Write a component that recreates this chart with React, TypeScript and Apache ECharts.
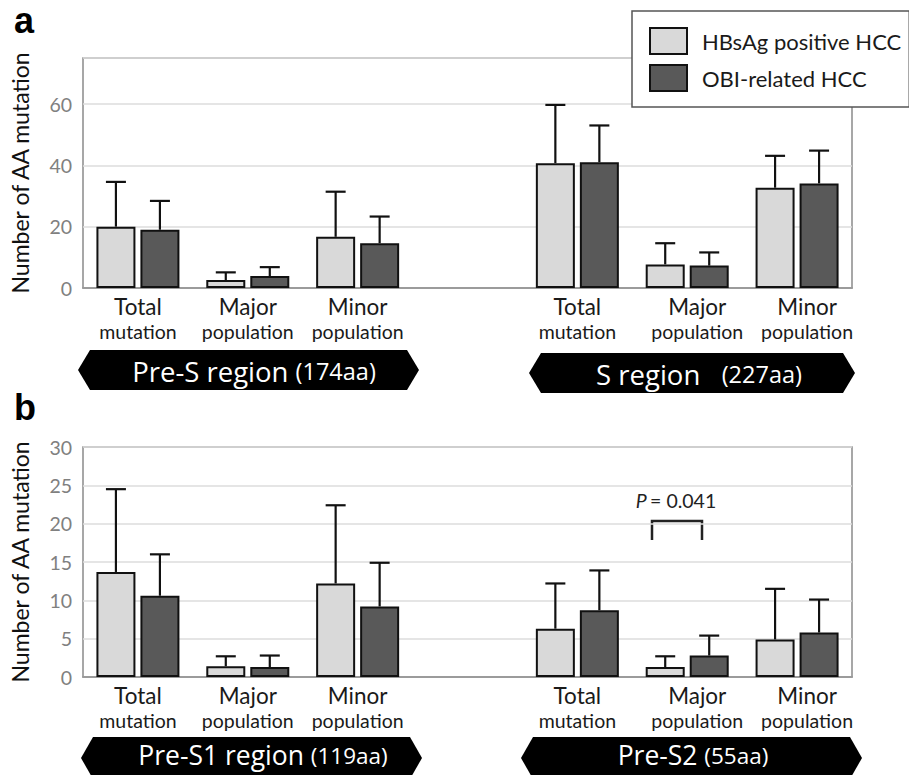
import React, { useEffect, useRef } from "react";
import * as echarts from "echarts";

const catTop = ["Total", "Major", "Minor", "", "Total", "Major", "Minor"];
const catBottom = ["mutation", "population", "population", "", "mutation", "population", "population"];
const seriesNames = ["HBsAg positive HCC", "OBI-related HCC"];

// Panel a
const hbsA = [20, 2.6, 16.7, null, 40.7, 7.7, 32.7];
const hbsAUpper = [34.6, 5.1, 31.4, null, 59.7, 14.6, 43.1];
const obiA = [19, 3.9, 14.6, null, 41.0, 7.3, 34.1];
const obiAUpper = [28.4, 6.8, 23.3, null, 53, 11.6, 44.8];
// Panel b
const hbsB = [13.7, 1.4, 12.2, null, 6.3, 1.3, 4.9];
const hbsBUpper = [24.5, 2.7, 22.4, null, 12.2, 2.7, 11.5];
const obiB = [10.6, 1.3, 9.2, null, 8.7, 2.8, 5.8];
const obiBUpper = [16.0, 2.8, 14.9, null, 13.9, 5.4, 10.1];

const yA = { min: 0, max: 75, interval: 20 };
const yB = { min: 0, max: 30, interval: 5 };

const regionA = [
  { main: "Pre-S region", sub: "(174aa)", gap: " " },
  { main: "S region", sub: "(227aa)", gap: "   " },
];
const regionB = [
  { main: "Pre-S1 region", sub: "(119aa)", gap: " " },
  { main: "Pre-S2", sub: "(55aa)", gap: " " },
];
const pLabel = "0.041";

const FONT = "Lato";
const BFONT = "Open Sans";
const LIGHT = "#d9d9d9";
const DARK = "#595959";
const BAR_W = 39;
const BAR_GAP_PX = 5;
const OFF = (BAR_W + BAR_GAP_PX) / 2;

function barSeries(name: string, data: (number | null)[], idx: number, color: string) {
  return {
    type: "bar",
    name,
    xAxisIndex: idx,
    yAxisIndex: idx,
    data,
    barWidth: BAR_W,
    barGap: (BAR_GAP_PX / BAR_W) * 100 + "%",
    itemStyle: { color, borderColor: "#111", borderWidth: 2 },
    z: 2,
  };
}

function errSeries(means: (number | null)[], uppers: (number | null)[], idx: number, offset: number) {
  const data: number[][] = [];
  means.forEach((m, i) => {
    if (m != null && uppers[i] != null) data.push([i, m, uppers[i] as number]);
  });
  return {
    type: "custom",
    xAxisIndex: idx,
    yAxisIndex: idx,
    silent: true,
    z: 5,
    data,
    encode: { x: 0, y: [1, 2] },
    renderItem: (params: any, api: any) => {
      const i = api.value(0);
      const p0 = api.coord([i, api.value(1)]);
      const p1 = api.coord([i, api.value(2)]);
      const x = p0[0] + offset;
      return {
        type: "group",
        children: [
          { type: "line", shape: { x1: x, y1: p0[1], x2: x, y2: p1[1] }, style: { stroke: "#111", lineWidth: 2.2 } },
          { type: "line", shape: { x1: x - 10, y1: p1[1], x2: x + 10, y2: p1[1] }, style: { stroke: "#111", lineWidth: 2.2 } },
        ],
      };
    },
  };
}

function xAxis(idx: number) {
  return {
    type: "category",
    gridIndex: idx,
    data: catTop.map((t, i) => t + "\n" + catBottom[i]),
    axisTick: { show: false },
    axisLine: { lineStyle: { color: "#8a8a8a", width: 1.5 } },
    axisLabel: {
      interval: 0,
      margin: 7,
      hideOverlap: false,
      formatter: (val: string, i: number) => {
        if (!val.trim()) return "";
        const [t, b] = val.split("\n");
        const s = i === 5 || i === 6 ? "s" : "";
        return `{t${s}|${t}}\n{b${s}|${b}}`;
      },
      rich: {
        t: { fontFamily: FONT, fontSize: 22.5, lineHeight: 23, color: "#1a1a1a" },
        b: { fontFamily: FONT, fontSize: 19.5, lineHeight: 26, color: "#1a1a1a" },
        ts: { fontFamily: FONT, fontSize: 22.5, lineHeight: 23, color: "#1a1a1a", padding: [0, 0, 0, 20] },
        bs: { fontFamily: FONT, fontSize: 19.5, lineHeight: 26, color: "#1a1a1a", padding: [0, 0, 0, 20] },
      },
    },
  };
}

function yAxis(idx: number, cfg: { min: number; max: number; interval: number }) {
  return {
    type: "value",
    gridIndex: idx,
    min: cfg.min,
    max: cfg.max,
    interval: cfg.interval,
    name: "Number of AA mutation",
    nameLocation: "middle",
    nameGap: 52,
    nameRotate: 90,
    nameTextStyle: { fontFamily: FONT, fontSize: 23, color: "#111" },
    axisLine: { show: false },
    axisTick: { show: false },
    axisLabel: { showMaxLabel: cfg.max % cfg.interval === 0, margin: 11, fontFamily: FONT, fontSize: 19.5, color: "#808080" },
    splitLine: { lineStyle: { color: "#dcdcdc", width: 1.5 } },
  };
}

function banner(
  x0: number, x1: number, top: number, bottom: number, tip: number,
  r: { main: string; sub: string; gap: string }, cx: number, ty: number, size: number
) {
  const mid = (top + bottom) / 2;
  return [
    {
      type: "polygon",
      shape: {
        points: [
          [x0, mid],
          [x0 + tip, top],
          [x1 - tip, top],
          [x1, mid],
          [x1 - tip, bottom],
          [x0 + tip, bottom],
        ],
      },
      style: { fill: "#000" },
    },
    {
      type: "text",
      x: cx,
      y: ty,
      style: {
        text: `{m|${r.main}}{m|${r.gap}}{s|${r.sub}}`,
        align: "center",
        verticalAlign: "middle",
        rich: {
          m: { fontFamily: BFONT, fontSize: size, lineHeight: size + 2, fill: "#fff", color: "#fff" },
          s: { fontFamily: BFONT, fontSize: size - 4, lineHeight: size + 2, fill: "#fff", color: "#fff" },
        },
      },
    },
  ];
}

export default function App() {
  const ref = useRef<HTMLDivElement>(null);
  useEffect(() => {
    if (!ref.current) return;
    const chart = echarts.init(ref.current, undefined, { renderer: "svg" });
    chart.setOption({
      animation: false,
      backgroundColor: "#fff",
      textStyle: { fontFamily: FONT },
      grid: [
        { left: 73, right: 57, top: 58, height: 230, show: true, borderColor: "#8a8a8a", borderWidth: 1.5, backgroundColor: "transparent" },
        { left: 73, right: 57, top: 447, height: 230, show: true, borderColor: "#8a8a8a", borderWidth: 1.5, backgroundColor: "transparent" },
      ],
      xAxis: [xAxis(0), xAxis(1)],
      yAxis: [yAxis(0, yA), yAxis(1, yB)],
      legend: {
        data: seriesNames,
        orient: "vertical",
        left: 632,
        top: 11,
        backgroundColor: "#fff",
        borderColor: "#555",
        borderWidth: 1.5,
        borderRadius: 0,
        padding: [16, 8, 15, 17],
        itemGap: 9,
        itemWidth: 37,
        itemHeight: 26,
        icon: "rect",
        textStyle: { fontFamily: FONT, fontSize: 22, color: "#1a1a1a", padding: [0, 0, 0, 10] },
        selectedMode: false,
        z: 10,
      },
      series: [
        barSeries(seriesNames[0], hbsA, 0, LIGHT),
        barSeries(seriesNames[1], obiA, 0, DARK),
        barSeries(seriesNames[0], hbsB, 1, LIGHT),
        barSeries(seriesNames[1], obiB, 1, DARK),
        errSeries(hbsA, hbsAUpper, 0, -OFF),
        errSeries(obiA, obiAUpper, 0, OFF),
        errSeries(hbsB, hbsBUpper, 1, -OFF),
        errSeries(obiB, obiBUpper, 1, OFF),
      ],
      graphic: [
        { type: "text", left: 14, top: 2, style: { text: "a", fontFamily: "Liberation Sans", fontWeight: "bold", fontSize: 36, fill: "#000" } },
        { type: "text", left: 14, top: 389, style: { text: "b", fontFamily: "Liberation Sans", fontWeight: "bold", fontSize: 36, fill: "#000" } },
        ...banner(78, 419, 350, 390, 12, regionA[0], 254, 371, 27.5),
        ...banner(529, 855, 353, 393, 12, regionA[1], 699, 374, 27.5),
        ...banner(81, 422, 737, 779, 12, regionB[0], 263, 755, 26.5),
        ...banner(521, 862, 737, 779, 12, regionB[1], 693, 755, 26.5),
        {
          type: "polyline",
          shape: { points: [[652, 540], [652, 521], [702, 521], [702, 540]] },
          style: { stroke: "#222", lineWidth: 2.5, fill: "none" },
        },
        {
          type: "text",
          x: 676,
          y: 500,
          style: {
            text: `{i|P} {n|= ${pLabel}}`,
            align: "center",
            verticalAlign: "middle",
            rich: {
              i: { fontFamily: FONT, fontStyle: "italic", fontSize: 19.5, fill: "#222" },
              n: { fontFamily: FONT, fontSize: 19.5, fill: "#222" },
            },
          },
        },
      ],
    });
    return () => chart.dispose();
  }, []);
  return <div ref={ref} style={{ position: "fixed", left: 0, top: 0, width: 909, height: 775 }} />;
}
